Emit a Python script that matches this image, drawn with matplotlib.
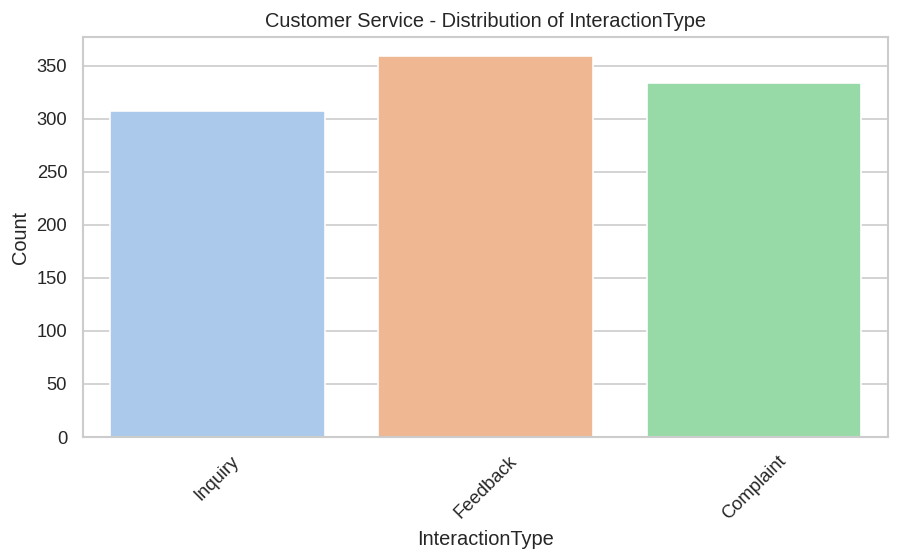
import matplotlib
matplotlib.use("Agg")
import matplotlib.pyplot as plt
import seaborn as sns

categories = ["Inquiry", "Feedback", "Complaint"]
counts = [307, 359, 334]

sns.set_theme(style="whitegrid", palette="pastel")
plt.rcParams["font.family"] = ["Liberation Sans", "DejaVu Sans"]

fig, ax = plt.subplots(figsize=(902 / 120, 560 / 120), dpi=120)
# countplot draws with saturation=0.75
colors = [sns.desaturate(c, 0.75) for c in sns.color_palette("pastel", len(categories))]
ax.bar(categories, counts, width=0.8, color=colors)
ax.set_xlim(-0.5, len(categories) - 0.5)
ax.set_title("Customer Service - Distribution of InteractionType")
ax.set_xlabel("InteractionType")
ax.set_ylabel("Count")
ax.tick_params(axis="x", rotation=45)
ax.grid(axis="x", visible=False)
ax.set_axisbelow(True)
fig.subplots_adjust(left=83 / 902, right=888 / 902, top=1 - 37 / 560, bottom=1 - 437 / 560)
fig.savefig("out.png", dpi=120)
